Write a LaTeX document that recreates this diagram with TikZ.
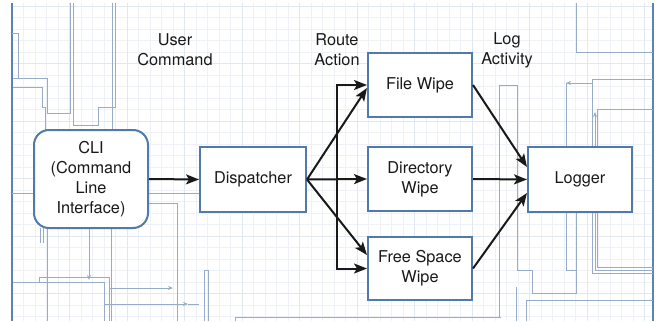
\documentclass[tikz,border=0pt]{standalone}
\usepackage{fontspec}
\setmainfont{TeX Gyre Heros}
\usetikzlibrary{arrows.meta}
\definecolor{boxblue}{RGB}{80,122,172}
\definecolor{faint}{RGB}{150,172,200}
\definecolor{framec}{RGB}{95,130,180}
\definecolor{gridc}{RGB}{238,241,246}
\definecolor{gridm}{RGB}{226,232,240}
\definecolor{ink}{RGB}{25,25,25}
\begin{document}
\begin{tikzpicture}[x=1pt,y=-1pt,
  txt/.style={font=\fontsize{16.3}{20}\selectfont, text=ink, align=center},
  box/.style={txt, draw=boxblue, line width=2pt, fill=white, inner sep=0pt,
    minimum width=104pt, minimum height=64pt},
  arr/.style={line width=2pt, ink, -{Stealth[length=13pt,width=10pt,inset=3pt]}},
  bg/.style={faint, line width=0.8pt},
  bgarr/.style={bg, -{Stealth[length=5pt,width=4pt]}},
]
\useasboundingbox (0,0) rectangle (658,321);
\fill[white] (0,0) rectangle (658,321);

% background grid
\foreach \i in {0,...,55} {
  \pgfmathsetmacro{\gx}{12+\i*11.5}
  \draw[gridc, line width=0.6pt] (\gx,3) -- (\gx,321);
}
\foreach \j in {0,...,27} {
  \pgfmathsetmacro{\gy}{6+\j*11.5}
  \draw[gridc, line width=0.6pt] (12,\gy) -- (653,\gy);
}
\foreach \i in {0,...,11} {
  \pgfmathsetmacro{\gx}{12+\i*57.5}
  \draw[gridm, line width=0.7pt] (\gx,3) -- (\gx,321);
}
\foreach \j in {0,...,5} {
  \pgfmathsetmacro{\gy}{6+\j*57.5}
  \draw[gridm, line width=0.7pt] (12,\gy) -- (653,\gy);
}

% faint underlying routing lines
\draw[framec, line width=2pt] (12,3) -- (12,321);
\draw[framec, line width=2pt] (653,3) -- (653,321);
\draw[bg] (12,33) -- (18,33) -- (18,78);
\draw[bg] (13,78) -- (47,78) -- (47,113) -- (70,113) -- (70,3);
\draw[bg] (13,87) -- (42,87) -- (42,107) -- (45,107) -- (45,130);
\draw[bg] (73,3) -- (73,125) -- (98,125) -- (98,107) -- (115,107) -- (115,3);
\draw[bg] (112,3) -- (112,130);
\draw[bg] (12,193) -- (35,193);
\draw[bg] (148,193) -- (200,193);
\draw[bg] (40,228) -- (40,243);
\draw[bg] (43,228) -- (43,243);
\draw[bg] (47,228) -- (47,321);
\draw[bgarr] (89,228) -- (89,280);
\draw[bg] (39,282) -- (39,277) -- (109,277) -- (109,321);
\draw[bg] (13,282) -- (104,282) -- (104,321);
\draw[bg] (111,228) -- (111,321);
\draw[bgarr] (109,288) -- (173,288);
\draw[bgarr] (105,304) -- (188,304);
\draw[bg] (188,304) -- (199,304);
\draw[bg] (148,203) -- (177,203) -- (177,321);
\draw[bg] (204,321) -- (204,270) -- (208,270) -- (208,321);
\draw[bg] (235,321) -- (235,317) -- (501,317);
\draw[bg] (576,3) -- (576,52) -- (653,52);
\draw[bg] (653,79) -- (592,79) -- (592,273) -- (653,273);
\draw[bgarr] (592,83) -- (566,83);
\draw[bg] (566,83) -- (566,147);
\draw[bg] (566,212) -- (566,270) -- (576,270);
\draw[bg] (653,109) -- (597,109) -- (597,267) -- (653,267);
\draw[bgarr] (595,147) -- (595,112);
\draw[bg] (595,212) -- (595,270) -- (653,270);
\draw[bg] (576,212) -- (576,293) -- (532,293) -- (532,270) -- (517,270) -- (517,85) -- (499,85) -- (499,317);
\draw[bg] (516,287) -- (516,321);
\draw[bg] (526,321) -- (526,300) -- (653,300);

% main nodes
\node[box, rounded corners=15pt, minimum width=114pt, minimum height=98pt]
  (cli) at (91,179) {CLI\\(Command\\Line\\Interface)};
\node[box, minimum width=106pt, minimum height=65pt] (disp) at (253,179.5) {Dispatcher};
\node[box] (file) at (420,85) {File Wipe};
\node[box] (dir) at (420,179) {Directory\\Wipe};
\node[box, minimum height=63pt] (free) at (420,268.5) {Free Space\\Wipe};
\node[box, minimum height=65pt] (log) at (580,179.5) {Logger};

% edge labels
\node[txt] (lcmd) at (175,50) {User\\Command};
\node[txt] (lroute) at (337,50) {Route\\Action};
\node[txt] (llog) at (507,50) {Log\\Activity};

% connectors
\coordinate (bus) at (337,179.5);
\draw[arr] (cli.east) -- (disp.west);
\draw[arr] (disp.east) -- (dir.west);
\draw[arr] (disp.east) -- ([yshift=-3pt]file.west);
\draw[arr] (disp.east) -- ([yshift=13.5pt]free.west);
\draw[arr] (bus) |- (file.west);
\draw[arr] (bus) |- (free.west);
\draw[arr] (file.east) -- ([yshift=12.5pt]log.west);
\draw[arr] (dir.east) -- (log.west);
\draw[arr] (free.east) -- ([yshift=-13.5pt]log.west);
\end{tikzpicture}
\end{document}
